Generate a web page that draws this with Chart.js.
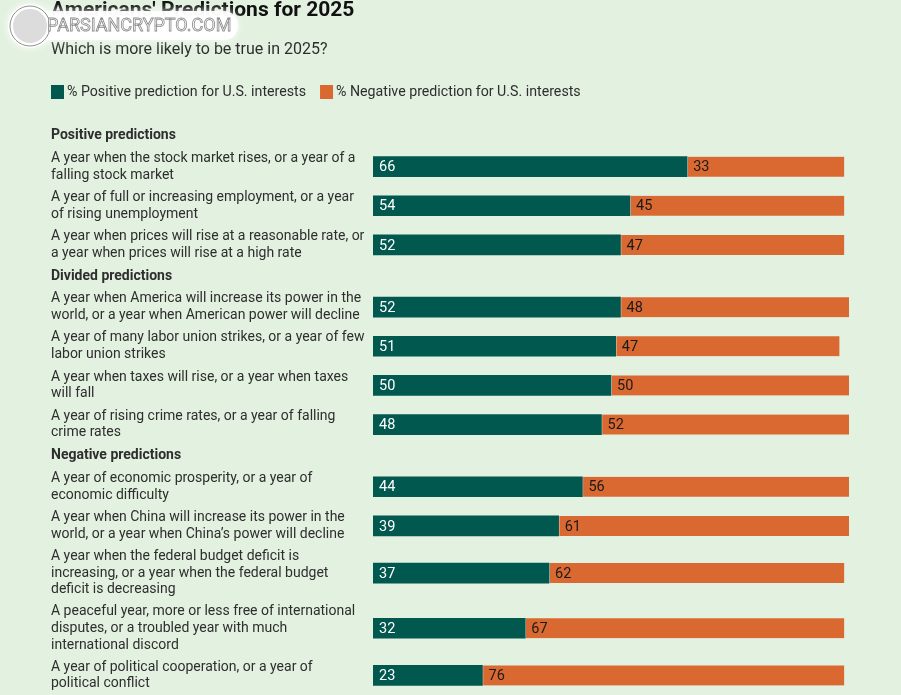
<!DOCTYPE html>
<html>
<head>
<meta charset="utf-8">
<script src="https://cdn.jsdelivr.net/npm/chart.js@4/dist/chart.umd.min.js"></script>
<style>
	html, body { margin: 0; padding: 0; background: #e3f1e0; }
	#wrap { width: 901px; height: 695px; position: relative; }
</style>
</head>
<body>
<div id="wrap"><canvas id="myChart"></canvas></div>
<script>
// chart data
var title = "Americans' Predictions for 2025"
var subtitle = 'Which is more likely to be true in 2025?'
var seriesNames = ['% Positive prediction for U.S. interests', '% Negative prediction for U.S. interests']

var groups = ['Positive predictions', 'Divided predictions', 'Negative predictions']
var groupSizes = [3, 4, 5]

var questions = [
	['A year when the stock market rises, or a year of a', 'falling stock market'],
	['A year of full or increasing employment, or a year', 'of rising unemployment'],
	['A year when prices will rise at a reasonable rate, or', 'a year when prices will rise at a high rate'],
	['A year when America will increase its power in the', 'world, or a year when American power will decline'],
	['A year of many labor union strikes, or a year of few', 'labor union strikes'],
	['A year when taxes will rise, or a year when taxes', 'will fall'],
	['A year of rising crime rates, or a year of falling', 'crime rates'],
	['A year of economic prosperity, or a year of', 'economic difficulty'],
	['A year when China will increase its power in the', 'world, or a year when China\u2019s power will decline'],
	['A year when the federal budget deficit is', 'increasing, or a year when the federal budget', 'deficit is decreasing'],
	['A peaceful year, more or less free of international', 'disputes, or a troubled year with much', 'international discord'],
	['A year of political cooperation, or a year of', 'political conflict']
]

var positive = [66, 54, 52, 52, 51, 50, 48, 44, 39, 37, 32, 23]
var negative = [33, 45, 47, 48, 47, 50, 52, 56, 61, 62, 67, 76]

var teal = '#00584f'
var orange = '#da6931'
var textColor = '#2e2e2e'
var fontFamily = 'Roboto, "Liberation Sans", sans-serif'

// rows: a header row for each group, then its questions.
// every row gets space in proportion to its number of text lines
var rows = []
var qi = 0
groups.forEach((g, gi) => {
	rows.push({ label: g, header: true })
	for (var k = 0; k < groupSizes[gi]; k++) {
		rows.push({ label: questions[qi], header: false, q: qi })
		qi++
	}
})
var pos = 0
rows.forEach(r => {
	var lines = r.header ? 1 : r.label.length
	var h = lines * 16 + 7
	r.y = pos + h / 2
	pos += h
})
var yMax = pos
var qRows = rows.filter(r => !r.header)

var posData = positive.map((v, i) => ({ x: v, y: qRows[i].y }))
var negData = negative.map((v, i) => ({ x: v, y: qRows[i].y }))

var headerPlugin = {
	id: 'header',
	afterDraw (chart) {
		var c = chart.ctx
		c.save()
		c.textBaseline = 'alphabetic'
		c.textAlign = 'left'
		c.fillStyle = '#111'
		c.font = 'bold 21px ' + fontFamily
		c.fillText(title, 51, 16)
		c.fillStyle = textColor
		c.font = '16px ' + fontFamily
		c.fillText(subtitle, 51, 54)

		// legend
		c.font = '14.2px ' + fontFamily
		c.textBaseline = 'middle'
		var x = 51
		chart.data.datasets.forEach(ds => {
			c.fillStyle = ds.backgroundColor
			c.fillRect(x, 85, 13, 14)
			c.fillStyle = textColor
			c.fillText(ds.label, x + 16, 92.5)
			x += 16 + c.measureText(ds.label).width + 14
		})

		// watermark
		c.shadowColor = 'rgba(255,255,255,0.9)'
		c.shadowBlur = 8
		c.fillStyle = 'rgba(255,255,255,0.92)'
		c.beginPath()
		c.roundRect(12, 11, 226, 29, 14)
		c.fill()
		c.beginPath()
		c.arc(30, 26, 22, 0, Math.PI * 2)
		c.fill()
		c.shadowBlur = 0
		c.strokeStyle = '#8f8f8f'
		c.lineWidth = 1
		c.beginPath()
		c.arc(30, 26, 20, 0, Math.PI * 2)
		c.stroke()
		c.fillStyle = '#dcdcdc'
		c.beginPath()
		c.arc(30, 26, 17, 0, Math.PI * 2)
		c.fill()
		c.font = '18px ' + fontFamily
		c.textBaseline = 'middle'
		c.fillStyle = '#fff'
		c.fillText('PARSIANCRYPTO.COM', 47, 26)
		c.strokeStyle = '#8a8a8a'
		c.lineWidth = 0.8
		c.strokeText('PARSIANCRYPTO.COM', 47, 26)
		c.restore()
	}
}

var valueLabels = {
	id: 'valueLabels',
	afterDatasetsDraw (chart) {
		var c = chart.ctx
		c.save()
		c.font = '14.5px ' + fontFamily
		c.textBaseline = 'middle'
		c.textAlign = 'left'
		chart.data.datasets.forEach((ds, di) => {
			var meta = chart.getDatasetMeta(di)
			meta.data.forEach((bar, i) => {
				var left = Math.min(bar.x, bar.base)
				c.fillStyle = di === 0 ? '#ffffff' : '#1a1a1a'
				c.fillText(String(ds.data[i].x), left + 6, bar.y + 1)
			})
		})
		c.restore()
	}
}

var ctx = document.getElementById('myChart').getContext('2d')
var myChart = new Chart(ctx, {
	type: 'bar',
	data: {
		datasets: [{
			label: seriesNames[0],
			data: posData,
			backgroundColor: teal,
			borderWidth: 0
		}, {
			label: seriesNames[1],
			data: negData,
			backgroundColor: orange,
			borderColor: '#ffffff',
			borderWidth: { top: 0, right: 0, bottom: 0, left: 1 },
			borderSkipped: false
		}]
	},
	options: {
		indexAxis: 'y',
		responsive: true,
		maintainAspectRatio: false,
		animation: false,
		barThickness: 20,
		layout: {
			padding: { top: 124, left: 51, right: 52, bottom: 0 }
		},
		plugins: {
			legend: { display: false },
			tooltip: { enabled: false }
		},
		scales: {
			x: {
				type: 'linear',
				stacked: true,
				min: 0,
				max: 100,
				display: false
			},
			y: {
				type: 'linear',
				stacked: true,
				reverse: true,
				offset: false,
				min: 0,
				max: yMax,
				grid: { display: false },
				border: { display: false },
				afterBuildTicks (scale) {
					scale.ticks = rows.map(r => ({ value: r.y }))
				},
				afterFit (scale) {
					scale.width = 322
					scale.paddingTop = 0
					scale.paddingBottom = 0
				},
				ticks: {
					autoSkip: false,
					padding: 0,
					crossAlign: 'far',
					color: textColor,
					font: (c) => {
						var r = rows[c.index]
						return {
							family: fontFamily,
							size: 14,
							weight: r && r.header ? 'bold' : 'normal',
							lineHeight: 1.2
						}
					},
					callback: (v, i) => rows[i] ? rows[i].label : ''
				}
			}
		}
	},
	plugins: [headerPlugin, valueLabels]
})
</script>
</body>
</html>
